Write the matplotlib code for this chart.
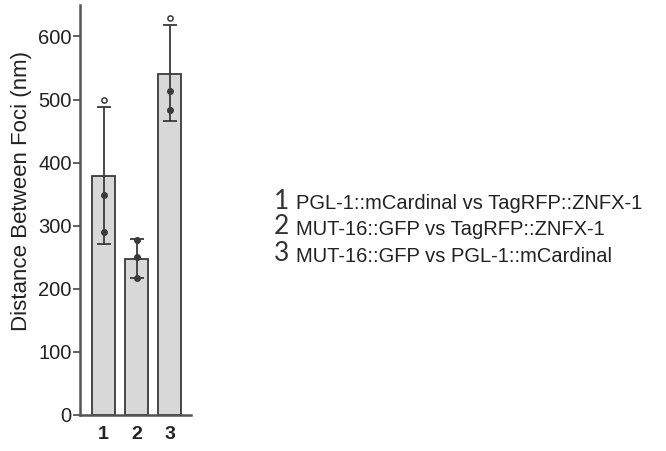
import numpy as np
import matplotlib
matplotlib.use("Agg")
import matplotlib.pyplot as plt

plt.rcParams['font.family'] = ['Liberation Sans', 'DejaVu Sans']

groups = ['1', '2', '3']
means = [379, 248, 541]
err_low = [108, 31, 75]
err_high = [110, 31, 78]
# individual points: filled dots and open (outlier) dots
filled_pts = [[348, 290], [278, 250, 217], [514, 484]]
open_pts = [[500], [], [629]]
legend_labels = [
    'PGL-1::mCardinal vs TagRFP::ZNFX-1',
    'MUT-16::GFP vs TagRFP::ZNFX-1',
    'MUT-16::GFP vs PGL-1::mCardinal',
]

dark = '#3a3a3a'
fig = plt.figure(figsize=(6.66, 4.51), dpi=100)
ax = fig.add_axes([0.120, 0.080, 0.167, 0.909])

x = np.arange(1, len(groups) + 1)
ax.bar(x, means, width=0.7, color='#d8d8d8', edgecolor=dark, linewidth=1.3, zorder=1)
ax.errorbar(x, means, yerr=[err_low, err_high], fmt='none', ecolor=dark,
            elinewidth=1.3, capsize=5, capthick=1.3, zorder=3)
for xi, pts in zip(x, filled_pts):
    ax.scatter([xi] * len(pts), pts, s=16, color=dark, zorder=4)
for xi, pts in zip(x, open_pts):
    if pts:
        ax.scatter([xi] * len(pts), pts, s=14, facecolor='white', edgecolor=dark,
                   linewidth=1.1, zorder=4)

ax.set_xlim(0.286, 3.65)
ax.set_ylim(0, 650)
ax.set_yticks([0, 100, 200, 300, 400, 500, 600])
ax.set_xticks(x)
ax.set_xticklabels(groups, fontsize=14, fontweight='bold', color='#222222')
ax.tick_params(axis='x', length=0, pad=8)
ax.tick_params(axis='y', length=5, width=1.3, color='#555555', labelsize=14.5,
               labelcolor='#222222', pad=1)
for s in ['top', 'right']:
    ax.spines[s].set_visible(False)
for s in ['left', 'bottom']:
    ax.spines[s].set_color('#555555')
    ax.spines[s].set_linewidth(1.8)
ax.set_ylabel('Distance Between Foci (nm)', fontsize=16, color='#222222')
ax.yaxis.set_label_coords(-0.43, 0.545)

ys = [0.554, 0.497, 0.437]
for i, (lab, yy) in enumerate(zip(legend_labels, ys)):
    fig.text(0.411, yy, str(i + 1), fontsize=19, color='#333333', va='center',
             family=['Lato', 'Liberation Sans'])
    fig.text(0.445, yy - 0.006, lab, fontsize=14.5, color='#222222', va='center')

fig.savefig('out.png', dpi=100)
